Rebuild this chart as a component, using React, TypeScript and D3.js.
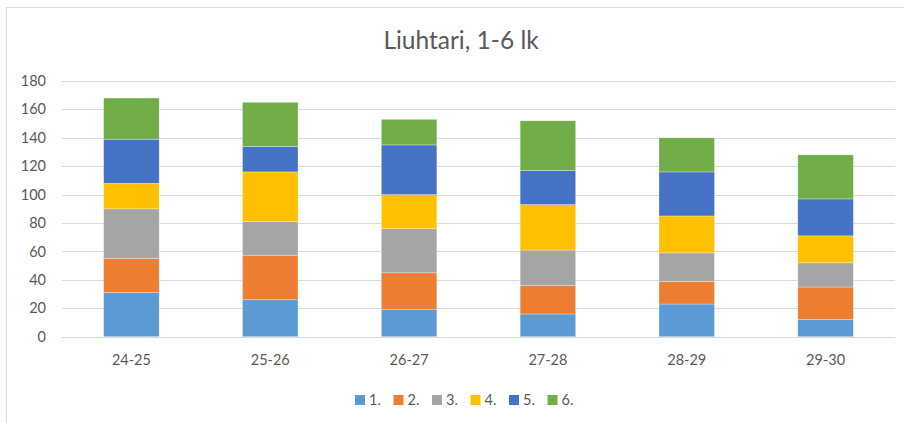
import React from "react";
import * as d3 from "d3";

const categories = ["24-25", "25-26", "26-27", "27-28", "28-29", "29-30"];
const seriesNames = ["1.", "2.", "3.", "4.", "5.", "6."];
const grade1 = [31, 26, 19, 16, 23, 12];
const grade2 = [24, 31, 26, 20, 16, 23];
const grade3 = [35, 24, 31, 25, 20, 17];
const grade4 = [18, 35, 24, 32, 26, 19];
const grade5 = [31, 18, 35, 24, 31, 26];
const grade6 = [29, 31, 18, 35, 24, 31];
const yTicks = [0, 20, 40, 60, 80, 100, 120, 140, 160, 180];
const colors = ["#5B9BD5", "#ED7D31", "#A5A5A5", "#FFC000", "#4472C4", "#70AD47"];
const title = "Liuhtari, 1-6 lk";

const W = 904;
const H = 423;
const FONT = "Lato, 'Open Sans', sans-serif";

export default function App() {
  const series = [grade1, grade2, grade3, grade4, grade5, grade6];
  const rows = categories.map((c, i) => {
    const r: any = { cat: c };
    seriesNames.forEach((s, j) => (r[s] = series[j][i]));
    return r;
  });
  const stack = d3.stack<any>().keys(seriesNames)(rows);

  const x = d3.scaleBand().domain(categories).range([62, 895]).paddingInner(0.6).paddingOuter(0.3);
  const y = d3.scaleLinear().domain([0, 180]).range([336.7, 81]);

  const legendX = [355, 393.5, 432, 470.5, 509, 547.5];

  return (
    <svg width={W} height={H} style={{ position: "absolute", left: 0, top: 0 }} fontFamily={FONT}>
      <rect x={0} y={0} width={W} height={H} fill="#fff" />
      <rect x={6.5} y={7.5} width={W + 10} height={H + 10} fill="#fff" stroke="#d9d9d9" strokeWidth={1} />
      <text x={461} y={48.5} textAnchor="middle" fontSize={24.5} fill="#595959">{title}</text>
      {yTicks.map((t) => (
        <g key={t}>
          <line x1={62} x2={895} y1={Math.round(y(t)) + 0.5} y2={Math.round(y(t)) + 0.5} stroke="#d9d9d9" strokeWidth={1} />
          <text x={46} y={y(t)} dy="0.35em" textAnchor="end" fontSize={14.5} fill="#595959">{t}</text>
        </g>
      ))}
      {stack.map((layer, j) => (
        <g key={layer.key} fill={colors[j]}>
          {layer.map((d, i) => (
            <rect
              key={i}
              x={x(categories[i])!}
              width={x.bandwidth()}
              y={y(d[1])}
              height={y(d[0]) - y(d[1])}
              stroke="#ffffff"
              strokeOpacity={0.5}
              strokeWidth={0.6}
            />
          ))}
        </g>
      ))}
      {categories.map((c) => (
        <text key={c} x={x(c)! + x.bandwidth() / 2} y={360} dy="0.35em" textAnchor="middle" fontSize={14.5} fill="#595959">{c}</text>
      ))}
      {seriesNames.map((s, j) => (
        <g key={s}>
          <rect x={legendX[j]} y={395} width={10} height={10} fill={colors[j]} />
          <text x={legendX[j] + 14} y={400} dy="0.35em" fontSize={14.5} fill="#595959">{s}</text>
        </g>
      ))}
    </svg>
  );
}
